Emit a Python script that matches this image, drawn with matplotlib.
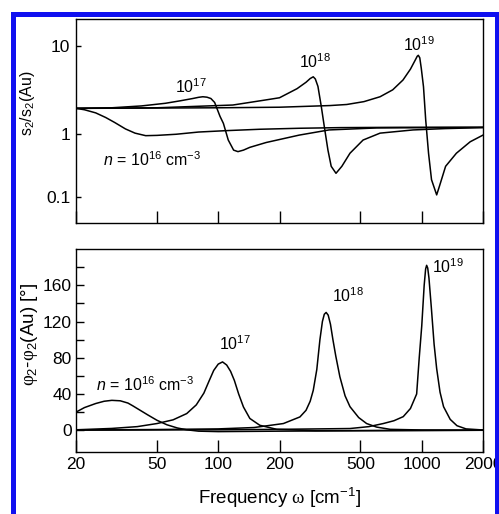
import numpy as np
import matplotlib
matplotlib.use("Agg")
import matplotlib.pyplot as plt
from matplotlib.patches import Rectangle

plt.rcParams['font.family'] = ['Liberation Sans', 'DejaVu Sans']
plt.rcParams['mathtext.fontset'] = 'custom'
plt.rcParams['mathtext.rm'] = 'Liberation Sans'
plt.rcParams['mathtext.it'] = 'Liberation Sans:italic'
plt.rcParams['mathtext.sf'] = 'Liberation Serif'

# amplitude ratio s2/s2(Au), one curve per carrier density
f_a16 = [20, 22, 25, 28, 31, 35, 39, 44, 50, 62, 80, 110, 160, 250, 400, 800, 2000]
a16 = [1.97, 1.9, 1.75, 1.55, 1.36, 1.15, 1.03, 0.95, 0.96, 1.0, 1.06, 1.1, 1.14, 1.17, 1.19, 1.2, 1.2]

f_a17 = [20, 30, 42, 55, 65, 75, 80, 84, 88, 92, 96, 102, 106, 112, 119, 125, 133, 143, 172, 250, 350, 600, 2000]
a17 = [1.97, 2.0, 2.1, 2.25, 2.4, 2.55, 2.63, 2.67, 2.64, 2.55, 2.3, 1.6, 1.33, 0.81, 0.56, 0.53, 0.56, 0.62, 0.74, 0.97, 1.12, 1.18, 1.2]

f_a18 = [20, 50, 118, 170, 200, 244, 270, 283, 293, 300, 309, 321, 333, 346, 359, 379, 405, 444, 515, 624, 906, 1300, 2000]
a18 = [1.97, 2.0, 2.15, 2.45, 2.6, 3.3, 3.9, 4.3, 4.5, 4.25, 3.5, 2.06, 1.17, 0.56, 0.31, 0.24, 0.31, 0.5, 0.81, 1.03, 1.12, 1.16, 1.19]

f_a19 = [20, 100, 200, 354, 428, 520, 624, 720, 809, 880, 930, 950, 962, 978, 995, 1020, 1046, 1080, 1117, 1184, 1222, 1310, 1480, 1730, 2000]
a19 = [1.97, 2.0, 2.03, 2.12, 2.18, 2.35, 2.67, 3.2, 4.14, 5.5, 7.0, 7.7, 7.9, 7.4, 5.6, 3.47, 1.45, 0.5, 0.19, 0.109, 0.15, 0.31, 0.5, 0.76, 0.97]

# phase difference phi2 - phi2(Au) in degrees
f_p16 = [20, 22, 25, 27.5, 30, 33, 36, 38, 41, 45, 50, 56, 63, 70, 80, 100, 200, 500, 2000]
p16 = [20, 25, 29.5, 32, 33, 32.5, 30, 27, 22.5, 17, 11, 6, 2.5, 0.5, -1, -1.5, -1, -0.5, 0]

f_p17 = [20, 30, 40, 50, 60, 70, 78, 85, 90, 95, 100, 105, 110, 115, 120, 126, 133, 143, 160, 194, 300, 2000]
p17 = [0.5, 2, 4, 7.4, 11.5, 18.4, 28, 41, 54, 66, 73, 75.4, 72, 65, 55, 40, 25.7, 13, 5.5, 1, -0.5, 0]

f_p18 = [20, 50, 100, 150, 209, 252, 270, 283, 293, 305, 316, 325, 332, 339, 347, 356, 366, 378, 396, 420, 444, 490, 536, 600, 700, 1000, 2000]
p18 = [0.3, 0.8, 1.5, 3, 7.4, 14.7, 22, 32, 44, 67, 100, 120, 128, 130, 127, 117, 100, 82, 59, 38, 26, 14, 7.4, 3.5, 1, 0.3, 0]

f_p19 = [20, 100, 200, 444, 550, 647, 730, 811, 880, 944, 972, 1000, 1028, 1045, 1057, 1070, 1085, 1115, 1150, 1184, 1230, 1280, 1380, 1490, 1650, 2000]
p19 = [0.1, 0.5, 1, 1.9, 4, 7.4, 10.5, 15, 24, 40, 80, 115, 160, 178, 182, 179, 168, 135, 95, 68, 42, 26, 12, 5, 1.5, 0.3]

labels = ['$10^{16}$', '$10^{17}$', '$10^{18}$', '$10^{19}$']
xticks = [20, 50, 100, 200, 500, 1000, 2000]

# the upper panel's y axis is not a plain log axis: the decade below 1 is shorter
k = 63 / 88


def fwd(v):
    l = np.log10(np.clip(v, 1e-6, None))
    return np.where(l >= 0, l, l * k)


def inv(u):
    return np.where(u >= 0, 10.0 ** u, 10.0 ** (u / k))


fig = plt.figure(figsize=(4.99, 5.14), dpi=100)
ax1 = fig.add_axes([76 / 499, 1 - 223 / 514, 407 / 499, 204.5 / 514])
ax2 = fig.add_axes([76 / 499, 1 - 452 / 514, 407 / 499, 203 / 514])

lw = 1.1
for f, a in [(f_a16, a16), (f_a17, a17), (f_a18, a18), (f_a19, a19)]:
    ax1.plot(f, a, color='black', lw=lw)
for f, p in [(f_p16, p16), (f_p17, p17), (f_p18, p18), (f_p19, p19)]:
    ax2.plot(f, p, color='black', lw=lw)

for ax in (ax1, ax2):
    ax.set_xscale('log')
    ax.set_xlim(20, 2000)
    ax.set_xticks(xticks)
    ax.xaxis.set_minor_locator(matplotlib.ticker.NullLocator())
    ax.tick_params(axis='x', which='major', direction='in', length=8.6, width=1, pad=3.5, labelsize=12.5)
    for s in ax.spines.values():
        s.set_linewidth(1.0)

ax1.set_yscale('function', functions=(fwd, inv))
ax1.set_ylim(0.039, 20.7)
ax1.set_yticks([0.1, 1, 10])
ax1.set_yticklabels(['0.1', '1', '10'])
ax1.yaxis.set_minor_locator(matplotlib.ticker.NullLocator())
ax1.tick_params(axis='y', direction='in', length=3.6, width=1, pad=4, labelsize=12.5)
ax1.set_xticklabels([])
ax1.set_ylabel(r'$\mathrm{s_2/s_2(Au)}$', fontsize=11.5)
ax1.yaxis.set_label_coords(-0.095, 0.587)

ax2.set_ylim(-24, 200)
ax2.set_yticks([0, 40, 80, 120, 160])
ax2.set_yticks([20, 60, 100, 140, 180], minor=True)
ax2.tick_params(axis='y', which='both', direction='in', length=5.5, width=1, pad=3, labelsize=12.5)
ax2.set_xticklabels([str(t) for t in xticks])
ax2.set_ylabel(r'$\mathsf{\varphi}_2$-$\mathsf{\varphi}_2$(Au) [°]', fontsize=13.5)
ax2.yaxis.set_label_coords(-0.088, 0.581)
ax2.set_xlabel(r'Frequency $\mathsf{\omega}$ [cm$^{\mathrm{-1}}$]', fontsize=13.5, labelpad=10)

fs = 11.5
ax1.text(47.2, 0.39, r'$n$ = ' + labels[0] + ' cm$^{-3}$', fontsize=fs, ha='center', va='center')
ax1.text(73.5, 3.45, labels[1], fontsize=fs, ha='center', va='center')
ax1.text(299, 6.63, labels[2], fontsize=fs, ha='center', va='center')
ax1.text(971, 10.35, labels[3], fontsize=fs, ha='center', va='center')

ax2.text(43.7, 50.8, r'$n$ = ' + labels[0] + ' cm$^{-3}$', fontsize=fs, ha='center', va='center')
ax2.text(120.9, 96, labels[1], fontsize=fs, ha='center', va='center')
ax2.text(435, 149, labels[2], fontsize=fs, ha='center', va='center')
ax2.text(1346, 181, labels[3], fontsize=fs, ha='center', va='center')

# blue frame around the figure, open at the bottom edge
fig.patches.append(Rectangle((12.5 / 499, -0.05), 484 / 499, 1.05 - 13.5 / 514,
                             transform=fig.transFigure, fill=False,
                             edgecolor='#1010f0', linewidth=3.6))

fig.savefig('out.png', dpi=100)
